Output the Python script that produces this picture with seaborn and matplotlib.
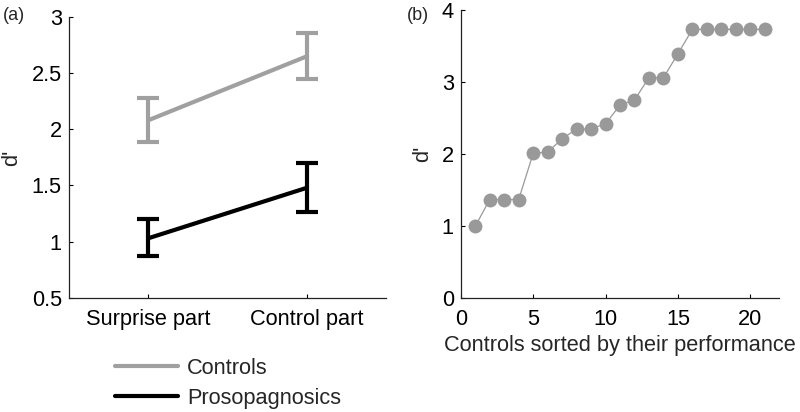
import numpy as np
import pandas as pd
import seaborn as sns
import matplotlib.pyplot as plt

# panel (a): mean d' per part, with error bar ends
parts = ["Surprise part", "Control part"]
controls_mean = [2.08, 2.65]
controls_low = [1.89, 2.45]
controls_high = [2.28, 2.86]
proso_mean = [1.03, 1.48]
proso_low = [0.87, 1.26]
proso_high = [1.20, 1.70]

# panel (b): controls sorted by d'
control_rank = list(range(1, 22))
control_dprime = [1.00, 1.37, 1.37, 1.37, 2.01, 2.03, 2.21, 2.35, 2.35, 2.42,
                  2.68, 2.75, 3.06, 3.06, 3.39, 3.73, 3.73, 3.73, 3.73, 3.73, 3.73]

sns.set_theme(style="white")
plt.rcParams["font.family"] = ["Liberation Sans", "DejaVu Sans"]
plt.rcParams["axes.edgecolor"] = "#222222"
plt.rcParams["axes.linewidth"] = 0.9

grey = "#a0a0a0"
fs = 15.7

fig = plt.figure(figsize=(8, 4.12), dpi=100)
ax1 = fig.add_axes([0.086, 0.277, 0.397, 0.682])
ax2 = fig.add_axes([0.576, 0.276, 0.398, 0.700])

# --- panel (a)
df = pd.DataFrame({
    "pos": [1, 2, 1, 2],
    "d": controls_mean + proso_mean,
    "group": ["Controls"] * 2 + ["Prosopagnosics"] * 2,
})
sns.lineplot(data=df, x="pos", y="d", hue="group", palette=[grey, "black"],
             linewidth=3, ax=ax1, legend=False)
for mean, low, high, col in [(controls_mean, controls_low, controls_high, grey),
                             (proso_mean, proso_low, proso_high, "black")]:
    mean = np.array(mean)
    yerr = [mean - np.array(low), np.array(high) - mean]
    ax1.errorbar([1, 2], mean, yerr=yerr, fmt="none", ecolor=col,
                 elinewidth=3, capsize=8, capthick=3)

ax1.set_xlim(0.5, 2.5)
ax1.set_ylim(0.5, 3)
ax1.set_xticks([1, 2])
ax1.set_xticklabels(parts)
ax1.set_yticks([0.5, 1, 1.5, 2, 2.5, 3])
ax1.set_yticklabels(["0.5", "1", "1.5", "2", "2.5", "3"])
ax1.set_xlabel("")
ax1.set_ylabel("d'", fontsize=fs, labelpad=7)

# --- panel (b)
df2 = pd.DataFrame({"rank": control_rank, "d": control_dprime})
sns.lineplot(data=df2, x="rank", y="d", color="#999999", linewidth=0.9,
             marker="o", markersize=10, markeredgewidth=0, ax=ax2)
ax2.set_xlim(0, 22)
ax2.set_ylim(0, 4)
ax2.set_xticks([0, 5, 10, 15, 20])
ax2.set_yticks([0, 1, 2, 3, 4])
ax2.set_xlabel("Controls sorted by their performance", fontsize=fs, labelpad=3)
ax2.set_ylabel("d'", fontsize=fs, labelpad=6)

for ax in (ax1, ax2):
    sns.despine(ax=ax)
    ax.tick_params(direction="in", length=3, width=0.8, labelsize=fs,
                   colors="black", left=True, bottom=True, pad=5)
    ax.tick_params(axis="x", pad=8)

fig.text(0.003, 0.962, "(a)", fontsize=13, va="center")
fig.text(0.508, 0.962, "(b)", fontsize=13, va="center")

handles = [plt.Line2D([], [], color=grey, linewidth=3),
           plt.Line2D([], [], color="black", linewidth=3)]
fig.legend(handles, ["Controls", "Prosopagnosics"], loc="center left",
           bbox_to_anchor=(0.144, 0.070), frameon=False, fontsize=fs,
           handlelength=2.9, handletextpad=0.4, labelspacing=0.42,
           borderaxespad=0, borderpad=0)

fig.savefig("out.png", dpi=100)
